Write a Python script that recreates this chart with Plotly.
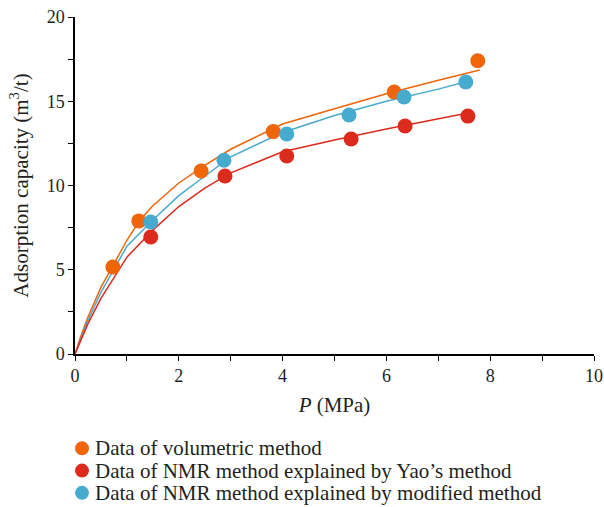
import plotly.graph_objects as go

# Measured data points
vol_p = [0.73, 1.23, 2.43, 3.82, 6.15, 7.76]
vol_v = [5.16, 7.90, 10.86, 13.20, 15.55, 17.40]

yao_p = [1.46, 2.89, 4.08, 5.32, 6.36, 7.57]
yao_v = [6.94, 10.56, 11.75, 12.76, 13.53, 14.12]

mod_p = [1.46, 2.87, 4.08, 5.28, 6.34, 7.53]
mod_v = [7.83, 11.50, 13.06, 14.18, 15.25, 16.14]

# Fitted curves
vol_fit_p = [0, 0.1, 0.25, 0.5, 0.75, 1.0, 1.25, 1.5, 2.0, 2.5, 3.0, 4.0, 5.0, 6.0, 7.0, 7.8]
vol_fit_v = [0, 0.95, 2.20, 3.95, 5.35, 6.75, 7.95, 8.80, 10.15, 11.20, 12.15, 13.65, 14.55, 15.45, 16.25, 16.85]

mod_fit_p = [0, 0.1, 0.25, 0.5, 0.75, 1.0, 1.5, 2.0, 2.5, 3.0, 4.0, 5.0, 6.0, 7.0, 7.53]
mod_fit_v = [0, 0.85, 2.00, 3.65, 5.05, 6.40, 7.95, 9.40, 10.55, 11.70, 13.15, 14.15, 15.00, 15.72, 16.16]

yao_fit_p = [0, 0.1, 0.25, 0.5, 0.75, 1.0, 1.5, 2.0, 2.5, 3.0, 4.0, 5.0, 6.0, 7.0, 7.57]
yao_fit_v = [0, 0.75, 1.80, 3.30, 4.55, 5.75, 7.35, 8.75, 9.85, 10.75, 12.00, 12.70, 13.35, 13.95, 14.30]

series_names = [
    "Data of volumetric method",
    "Data of NMR method explained by Yao’s method",
    "Data of NMR method explained by modified method",
]

C_VOL = "#EF6508"
C_YAO = "#DC2B1D"
C_MOD = "#46ABCE"
TXT = "#231F20"

FONT = "Liberation Serif"

fig = go.Figure()

for fp, fv, c in [(vol_fit_p, vol_fit_v, C_VOL), (mod_fit_p, mod_fit_v, C_MOD), (yao_fit_p, yao_fit_v, C_YAO)]:
    fig.add_trace(go.Scatter(x=fp, y=fv, mode="lines", line=dict(color=c, width=1.5),
                             showlegend=False, hoverinfo="skip"))

for p, v, c, name in [
    (vol_p, vol_v, C_VOL, series_names[0]),
    (yao_p, yao_v, C_YAO, series_names[1]),
    (mod_p, mod_v, C_MOD, series_names[2]),
]:
    fig.add_trace(go.Scatter(x=p, y=v, mode="markers", name=name, showlegend=False,
                             marker=dict(color=c, size=15, line=dict(width=0))))

# Custom legend below the plot (paper coordinates)
leg_rows_y = [-0.280, -0.346, -0.412]
for name, c, yy in zip(series_names, [C_VOL, C_YAO, C_MOD], leg_rows_y):
    fig.add_shape(type="circle", xref="paper", yref="paper",
                  xsizemode="pixel", ysizemode="pixel",
                  xanchor=0.0135, yanchor=yy, x0=-7, x1=7, y0=-7, y1=7,
                  fillcolor=c, line=dict(width=0))
    fig.add_annotation(text=name, xref="paper", yref="paper", x=0.035, y=yy,
                       xanchor="left", yanchor="middle", showarrow=False,
                       font=dict(family=FONT, size=21, color=TXT))

fig.update_layout(
    width=604, height=507,
    margin=dict(l=75, r=10, t=17, b=153),
    paper_bgcolor="white", plot_bgcolor="white",
    font=dict(family=FONT, size=18, color=TXT),
    showlegend=False,
    xaxis=dict(range=[0, 10], dtick=2, tick0=0, showgrid=False, zeroline=False, automargin=False,
               showline=True, linecolor="black", linewidth=1.5,
               ticks="outside", ticklen=5, tickcolor="black", tickwidth=1.2,
               minor=dict(dtick=1, ticks="outside", ticklen=5, tickcolor="black", tickwidth=1.2),
               title=dict(text="<i>P</i> (MPa)", font=dict(family=FONT, size=21, color=TXT), standoff=12),
               tickfont=dict(family=FONT, size=18, color=TXT)),
    yaxis=dict(range=[0, 20], dtick=5, tick0=0, showgrid=False, zeroline=False, automargin=False,
               showline=True, linecolor="black", linewidth=1.5,
               ticks="outside", ticklen=5, tickcolor="black", tickwidth=1.2,
               minor=dict(dtick=2.5, ticks="outside", ticklen=5, tickcolor="black", tickwidth=1.2),
               title=dict(text="Adsorption capacity (m<sup>3</sup>/t)", font=dict(family=FONT, size=21, color=TXT), standoff=12),
               tickfont=dict(family=FONT, size=18, color=TXT)),
)

fig.write_html("out.html")
